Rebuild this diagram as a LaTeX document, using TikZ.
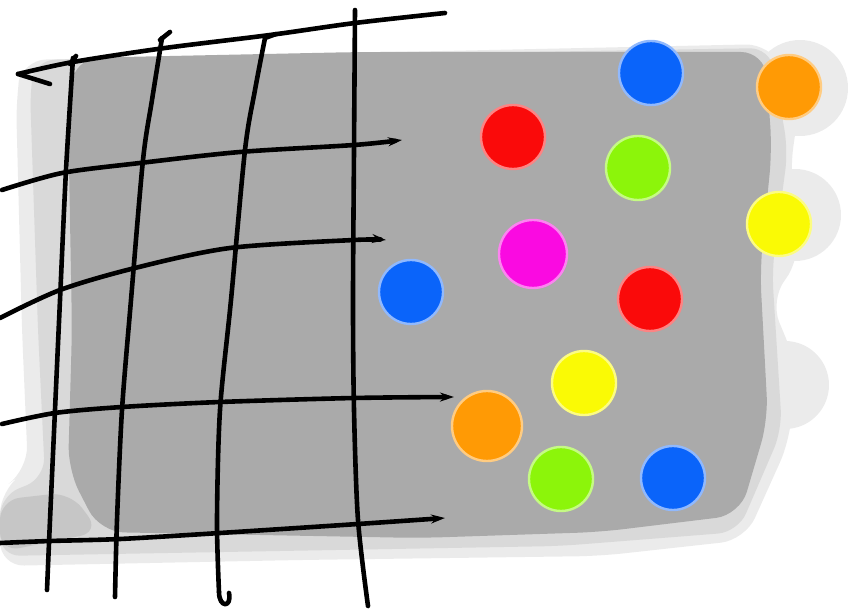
\documentclass[tikz,border=0pt]{standalone}
\usepackage{tikz}
\usetikzlibrary{arrows.meta}

\definecolor{dotblue}{HTML}{0A64FA}
\definecolor{dotorange}{HTML}{FF9A05}
\definecolor{dotred}{HTML}{FA0A0A}
\definecolor{dotgreen}{HTML}{8CF50A}
\definecolor{dotyellow}{HTML}{FAFA05}
\definecolor{dotpink}{HTML}{FA0AE1}

\tikzset{
  colordot/.style={circle, minimum size=32pt, inner sep=0pt, line width=1.2pt},
  gridline/.style={line width=2.3pt, line cap=round, line join=round},
  rowline/.style={gridline, -{Stealth[length=7pt, width=4.5pt]}},
}

\begin{document}
\begin{tikzpicture}[x=0.5pt, y=-0.5pt]
		\useasboundingbox (0,0) rectangle (858,614);

		% Paint: light outer wash
		\fill[gray!16] [rounded corners=12pt] (22,60) -- (770,44) -- (800,100) -- (790,170) -- (800,260) -- (770,300) -- (795,360) -- (790,440) -- (745,540) -- (600,556) -- (300,560) -- (0,566) -- (0,490) -- (28,470) -- (22,330) -- (16,100) -- cycle;
		\fill[gray!16] (800,88) circle (24pt) (795,215) circle (23pt) (785,385) circle (22pt);
		\fill[gray!30] [rounded corners=10pt] (35,60) -- (770,48) -- (788,150) -- (772,270) -- (782,430) -- (738,532) -- (560,546) -- (0,556) -- (0,496) -- (45,478) -- (38,330) -- (30,90) -- cycle;

		% Paint: main gray body
		\fill[gray!67] [rounded corners=12pt] (75,58) -- (360,52) -- (765,52) -- (772,150) -- (760,270) -- (768,420) -- (740,515) -- (600,532) -- (420,538) -- (100,532) -- (68,470) -- (72,330) -- (68,110) -- cycle;
		\fill[gray!45, rounded corners=10pt] (0,500) -- (70,492) -- (100,532) -- (0,552) -- cycle;

		% Grid: vertical strokes
		\draw[gridline] plot[smooth] coordinates {(73,58) (66,170) (60,300) (55,410) (50,520) (47,590)};
		\draw[gridline] (70,64) -- (76,56);
		\draw[gridline] plot[smooth] coordinates {(162,38) (152,100) (143,160) (131,300) (122,410) (117,520) (115,597)};
		\draw[gridline] (160,40) -- (170,32);
		\draw[gridline] plot[smooth] coordinates {(265,38) (255,90) (245,150) (231,300) (220,410) (217,520) (219,592)};
		\draw[gridline] (265,38) -- (276,34);
		\draw[gridline] (219,592) .. controls (219,608) and (232,608) .. (229,593);
		\draw[gridline] plot[smooth] coordinates {(355,10) (354,150) (353,300) (354,410) (358,520) (368,606)};

		% Grid: horizontal strokes
		\draw[gridline] plot[smooth] coordinates {(445,13) (355,23) (270,35) (165,48) (73,62) (18,74)};
		\draw[gridline] (18,74) -- (50,84);
		\draw[rowline] plot[smooth] coordinates {(2,190) (62,173) (140,163) (240,152) (354,145) (402,140)};
		\draw[rowline] plot[smooth] coordinates {(0,318) (60,290) (135,268) (230,248) (354,240) (386,240)};
		\draw[rowline] plot[smooth] coordinates {(2,424) (55,413) (122,407) (220,402) (354,398) (454,397)};
		\draw[rowline] plot[smooth] coordinates {(0,543) (50,541) (120,539) (220,533) (358,524) (445,518)};

		% Colour dots
		\node[colordot, fill=dotblue, draw=dotblue!45!white] (blueA) at (651,73) {};
		\node[colordot, fill=dotorange, draw=dotorange!50!white] (orangeA) at (789,87) {};
		\node[colordot, fill=dotred, draw=dotred!50!white] (redA) at (513,137) {};
		\node[colordot, fill=dotgreen, draw=dotgreen!50!white] (greenA) at (638,168) {};
		\node[colordot, fill=dotyellow, draw=dotyellow!50!white] (yellowA) at (779,224) {};
		\node[colordot, fill=dotpink, draw=dotpink!50!white, minimum size=34pt] (pinkA) at (533,254) {};
		\node[colordot, fill=dotblue, draw=dotblue!45!white] (blueB) at (411,292) {};
		\node[colordot, fill=dotred, draw=dotred!50!white] (redB) at (650,299) {};
		\node[colordot, fill=dotyellow, draw=dotyellow!50!white] (yellowB) at (584,383) {};
		\node[colordot, fill=dotorange, draw=dotorange!50!white, minimum size=35pt] (orangeB) at (487,426) {};
		\node[colordot, fill=dotgreen, draw=dotgreen!50!white] (greenB) at (561,479) {};
		\node[colordot, fill=dotblue, draw=dotblue!45!white, minimum size=32pt] (blueC) at (673,478) {};
	\end{tikzpicture}
\end{document}
